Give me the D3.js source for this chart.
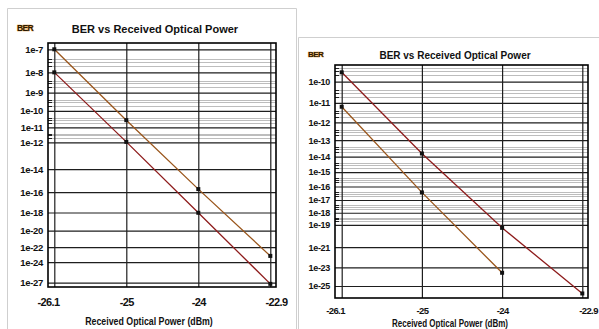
<!DOCTYPE html>
<html>
<head>
<meta charset="utf-8">
<script src="https://cdn.jsdelivr.net/npm/d3@7"></script>
<style>
  html, body { margin: 0; padding: 0; background: #fff; }
  svg { display: block; }
  text { font-family: "Liberation Sans", Arial, sans-serif; }
</style>
</head>
<body>
<svg id="chart" width="599" height="329"></svg>
<script>
// Received optical power sweep (dBm)
const powerLabels = ["-26.1", "-25", "-24", "-22.9"];

// BER exponents (BER = 10^-n) for each sweep point
const leftUpperBER = [7.0, 10.55, 15.72, 23.14];
const leftLowerBER = [8.0, 11.96, 18.03, 27.2];
const rightUpperBER = [9.59, 13.8, 19.26, 25.85];
const rightLowerBER = [11.19, 16.43, 23.56];

// Tick exponents on the BER axis
const leftTicks = [7, 8, 9, 10, 11, 12, 14, 16, 18, 20, 22, 24, 27];
const rightTicks = [10, 11, 12, 13, 14, 15, 16, 17, 18, 19, 21, 23, 25];

// intermediate grid multipliers inside one-decade steps
const minorMultipliers = [2, 3, 4];

const orangeColor = "#9a561c";
const redColor = "#8e1c1c";

const svg = d3.select("#chart");

// panel outlines
svg.append("path")
  .attr("d", "M7.5,340 V8.5 H296.5 V340")
  .attr("fill", "none").attr("stroke", "#cfcfcf").attr("stroke-width", 1);
svg.append("path")
  .attr("d", "M298.5,340 V37.5 H610")
  .attr("fill", "none").attr("stroke", "#cfcfcf").attr("stroke-width", 1);

function drawPanel(cfg) {
  const g = svg.append("g");
  const { x0, x1, y0, y1 } = cfg.frame;

  const x = d3.scalePoint().domain(powerLabels).range(cfg.pointRange);
  // BER plotted on a log(-log10 BER) scale
  const y = d3.scaleLog().domain(cfg.yDomain).range([y0, y1]);

  // minor grid where ticks step by one decade
  const minor = [];
  const t = cfg.ticks;
  const addDecade = (n) => {
    minorMultipliers.forEach(k => {
      const v = n - Math.log10(k);
      if (v > cfg.yDomain[0] && v < cfg.yDomain[1]) minor.push(v);
    });
  };
  addDecade(t[0]);
  for (let i = 1; i < t.length; i++) if (t[i] - t[i - 1] === 1) addDecade(t[i]);

  const minorG = g.append("g");
  minorG.selectAll("line.grid").data(minor).join("line")
    .attr("class", "grid")
    .attr("x1", x0).attr("x2", x1)
    .attr("y1", d => Math.round(y(d)) + 0.5).attr("y2", d => Math.round(y(d)) + 0.5)
    .attr("stroke", "#bdbdbd").attr("stroke-width", 1);
  minorG.selectAll("line.mtick").data(minor).join("line")
    .attr("class", "mtick")
    .attr("x1", x0).attr("x2", x0 + 4)
    .attr("y1", d => Math.round(y(d)) + 0.5).attr("y2", d => Math.round(y(d)) + 0.5)
    .attr("stroke", "#222").attr("stroke-width", 1);

  // major horizontal grid + labels
  const yAxisG = g.append("g").attr("class", "y-axis")
    .attr("transform", `translate(${x0},0)`);
  yAxisG.call(d3.axisLeft(y).tickValues(t).tickFormat(d => "1e-" + d)
      .tickSize(-(x1 - x0)).tickPadding(cfg.yPad));
  yAxisG.select(".domain").remove();
  yAxisG.selectAll(".tick line").attr("stroke", "#1e1e1e").attr("stroke-width", 1.2);
  yAxisG.selectAll(".tick text")
    .attr("font-size", cfg.yFont).attr("font-weight", "bold").attr("fill", "#111")
    .attr("letter-spacing", "-0.3");

  // vertical grid + x labels
  const xAxisG = g.append("g").attr("class", "x-axis")
    .attr("transform", `translate(0,${y1})`);
  xAxisG.call(d3.axisBottom(x).tickSize(-(y1 - y0)).tickPadding(cfg.xPad));
  xAxisG.select(".domain").remove();
  xAxisG.selectAll(".tick line").attr("stroke", "#1e1e1e").attr("stroke-width", 1.2);
  xAxisG.selectAll(".tick text")
    .attr("font-size", cfg.xFont).attr("font-weight", "bold").attr("fill", "#111")
    .attr("letter-spacing", "-0.6");
  // end labels sit on the frame edges
  const last = powerLabels.length - 1;
  xAxisG.selectAll(".tick text")
    .attr("dx", (d, i) => i === 0 ? x0 - x(d) : (i === last ? x1 - x(d) : 0));

  // frame
  g.append("rect")
    .attr("x", x0).attr("y", y0).attr("width", x1 - x0).attr("height", y1 - y0)
    .attr("fill", "none").attr("stroke", "#000").attr("stroke-width", 1.6);

  // series
  const line = d3.line().x((d, i) => x(powerLabels[i])).y(d => y(d));
  cfg.series.forEach(s => {
    g.append("path").datum(s.values)
      .attr("d", line).attr("fill", "none")
      .attr("stroke", s.color).attr("stroke-width", 1.3);
    g.append("g").selectAll("rect").data(s.values).join("rect")
      .attr("x", (d, i) => x(powerLabels[i]) - 2)
      .attr("y", d => y(d) - 2)
      .attr("width", 4).attr("height", 4)
      .attr("fill", "#111");
  });

  // titles
  g.append("text")
    .attr("x", cfg.title.x).attr("y", cfg.title.y)
    .attr("text-anchor", "middle").attr("font-size", cfg.title.size)
    .attr("font-weight", "bold").attr("fill", "#111")
    .text("BER vs Received Optical Power");
  g.append("text")
    .attr("x", cfg.berLabel.x).attr("y", cfg.berLabel.y)
    .attr("font-size", cfg.berLabel.size).attr("font-weight", "bold")
    .attr("fill", "#2a1800").attr("stroke", "#e59a3a").attr("stroke-width", 0.7)
    .attr("paint-order", "stroke").attr("letter-spacing", "-0.6")
    .text("BER");
  // condensed axis title
  g.append("text")
    .attr("transform", `translate(${cfg.xLabel.x},${cfg.xLabel.y}) scale(0.8,1)`)
    .attr("text-anchor", "middle").attr("font-size", cfg.xLabel.size)
    .attr("font-weight", "bold").attr("fill", "#111")
    .text("Received Optical Power (dBm)");
}

drawPanel({
  frame: { x0: 48, x1: 276, y0: 43, y1: 287 },
  pointRange: [54.3, 270.3],
  yDomain: [6.75, 27.7],
  ticks: leftTicks,
  yPad: 5, yFont: 9.5, xPad: 11, xFont: 11,
  series: [
    { values: leftUpperBER, color: orangeColor },
    { values: leftLowerBER, color: redColor }
  ],
  title: { x: 155, y: 33, size: 11 },
  berLabel: { x: 17, y: 31, size: 8.5 },
  xLabel: { x: 149, y: 325, size: 11 }
});

drawPanel({
  frame: { x0: 335, x1: 588, y0: 65, y1: 298 },
  pointRange: [341.7, 582.3],
  yDomain: [9.28, 26.38],
  ticks: rightTicks,
  yPad: 5, yFont: 9, xPad: 9, xFont: 9.5,
  series: [
    { values: rightUpperBER, color: redColor },
    { values: rightLowerBER, color: orangeColor }
  ],
  title: { x: 455, y: 58.5, size: 10 },
  berLabel: { x: 308, y: 57, size: 8 },
  xLabel: { x: 450, y: 327, size: 10 }
});
</script>
</body>
</html>
